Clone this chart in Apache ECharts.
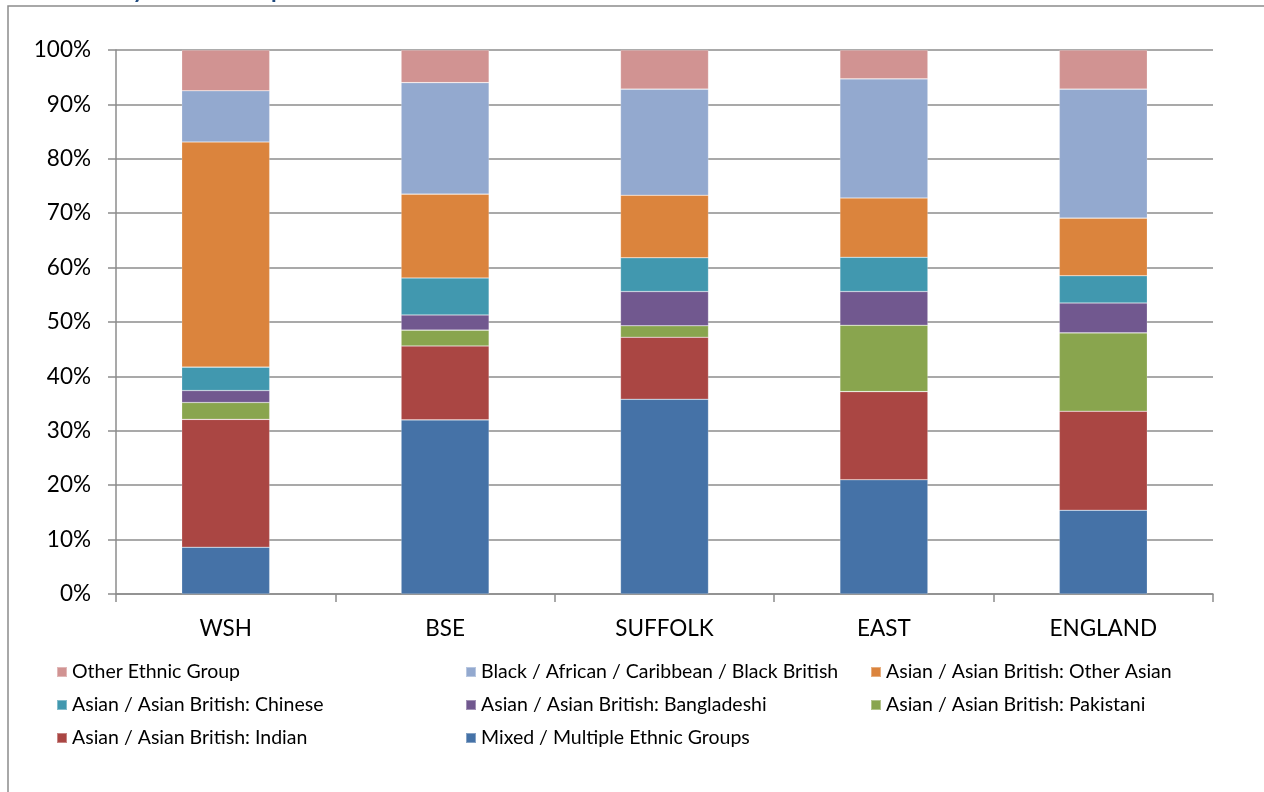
<!DOCTYPE html>
<html>
<head>
<meta charset="utf-8">
<script src="https://cdn.jsdelivr.net/npm/echarts@6/dist/echarts.min.js"></script>
<style>
  html, body { margin: 0; padding: 0; background: #fff; }
  #chart { width: 1264px; height: 792px; }
</style>
</head>
<body>
<div id="chart"></div>
<script>
// Areas compared
const categories = ['WSH', 'BSE', 'SUFFOLK', 'EAST', 'ENGLAND'];

// Share of each group within the minority ethnic population (%), stacked bottom to top
const mixed       = [8.6, 32.0, 35.8, 21.0, 15.4];
const indian      = [23.5, 13.6, 11.4, 16.2, 18.2];
const pakistani   = [3.1, 2.9, 2.1, 12.2, 14.4];
const bangladeshi = [2.2, 2.8, 6.3, 6.2, 5.5];
const chinese     = [4.3, 6.8, 6.2, 6.3, 5.0];
const otherAsian  = [41.4, 15.4, 11.5, 10.9, 10.6];
const black       = [9.4, 20.5, 19.5, 21.9, 23.7];
const otherGroup  = [7.5, 6.0, 7.2, 5.3, 7.2];

const seriesNames = [
  'Mixed / Multiple Ethnic Groups',
  'Asian / Asian British: Indian',
  'Asian / Asian British: Pakistani',
  'Asian / Asian British: Bangladeshi',
  'Asian / Asian British: Chinese',
  'Asian / Asian British: Other Asian',
  'Black / African / Caribbean / Black British',
  'Other Ethnic Group'
];
const seriesData = [mixed, indian, pakistani, bangladeshi, chinese, otherAsian, black, otherGroup];
const seriesColors = ['#4572A7', '#AA4643', '#89A54E', '#71588F', '#4198AF', '#DB843D', '#93A9CF', '#D19392'];

const yTicks = [0, 10, 20, 30, 40, 50, 60, 70, 80, 90, 100];

const FONT = 'Lato';

const series = seriesNames.map((name, i) => ({
  name: name,
  type: 'bar',
  stack: 'total',
  data: seriesData[i],
  barWidth: 88,
  itemStyle: { color: seriesColors[i], borderColor: 'rgba(255,255,255,0.35)', borderWidth: 0.6 },
  emphasis: { disabled: true }
}));

// Legend laid out in three columns, reading across rows
const legendCols = [
  ['Other Ethnic Group', 'Asian / Asian British: Chinese', 'Asian / Asian British: Indian'],
  ['Black / African / Caribbean / Black British', 'Asian / Asian British: Bangladeshi', 'Mixed / Multiple Ethnic Groups'],
  ['Asian / Asian British: Other Asian', 'Asian / Asian British: Pakistani']
];
const legendX = [51, 460, 865];

const legends = legendCols.map((names, i) => ({
  data: names,
  orient: 'vertical',
  left: legendX[i],
  top: 657,
  itemWidth: 10,
  itemHeight: 10,
  itemGap: 13,
  icon: 'rect',
  selectedMode: false,
  textStyle: { fontFamily: FONT, fontSize: 19.5, color: '#000' }
}));

const chart = echarts.init(document.getElementById('chart'), null, { renderer: 'canvas' });
chart.setOption({
  animation: false,
  backgroundColor: '#fff',
  color: seriesColors,
  grid: { left: 116, right: 51, top: 50, bottom: 198, containLabel: false },
  legend: legends,
  graphic: [
    {
      type: 'rect',
      shape: { x: 8, y: 6, width: 1300, height: 820 },
      style: { fill: null, stroke: '#8c8c8c', lineWidth: 1.5 },
      silent: true
    },
    {
      type: 'text',
      left: 56,
      top: -21,
      style: {
        text: 'Minority Ethnic Groups',
        fontFamily: FONT,
        fontWeight: 'bold',
        fontSize: 23,
        fill: '#1F497D'
      },
      silent: true
    }
  ],
  xAxis: {
    type: 'category',
    data: categories,
    axisLine: { show: true, lineStyle: { color: '#8c8c8c', width: 1.5 } },
    axisTick: { show: true, alignWithLabel: false, length: 8, inside: false, lineStyle: { color: '#8c8c8c', width: 1.5 } },
    axisLabel: { fontFamily: FONT, fontSize: 22.5, color: '#000', margin: 23 },
    splitLine: { show: false }
  },
  yAxis: {
    type: 'value',
    min: yTicks[0],
    max: yTicks[yTicks.length - 1],
    interval: 10,
    axisLine: { show: true, lineStyle: { color: '#8c8c8c', width: 1.5 } },
    axisTick: { show: true, length: 8, lineStyle: { color: '#8c8c8c', width: 1.5 } },
    axisLabel: { fontFamily: FONT, fontSize: 22.5, color: '#000', margin: 25, formatter: '{value}%' },
    splitLine: { show: true, lineStyle: { color: '#8c8c8c', width: 1.5 } }
  },
  series: series
});
</script>
</body>
</html>
